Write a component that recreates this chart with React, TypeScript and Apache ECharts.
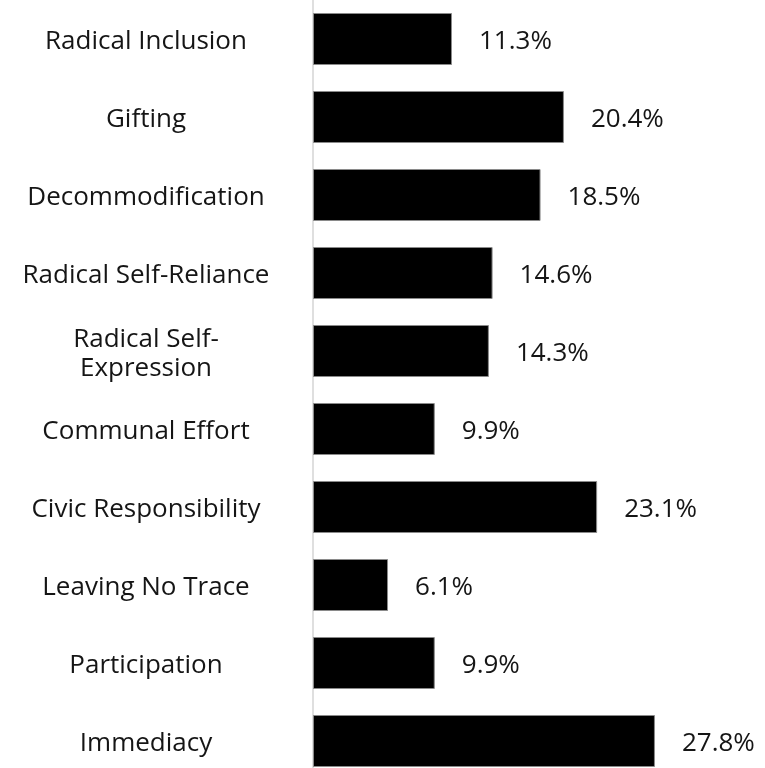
import React, { useEffect, useRef } from "react";
import * as echarts from "echarts";

const categories = [
  "Radical Inclusion",
  "Gifting",
  "Decommodification",
  "Radical Self-Reliance",
  "Radical Self-Expression",
  "Communal Effort",
  "Civic Responsibility",
  "Leaving No Trace",
  "Participation",
  "Immediacy",
];
const values = [11.3, 20.4, 18.5, 14.6, 14.3, 9.9, 23.1, 6.1, 9.9, 27.8];

export default function App() {
  const ref = useRef<HTMLDivElement>(null);
  useEffect(() => {
    if (!ref.current) return;
    const chart = echarts.init(ref.current, null, { renderer: "svg" });
    chart.setOption({
      animation: false,
      grid: { left: 313, right: 83, top: -1, bottom: 0 },
      xAxis: { type: "value", min: 0, max: 30, show: false },
      yAxis: {
        type: "category",
        data: categories,
        inverse: true,
        axisLine: { show: true, lineStyle: { color: "#d4d4d4", width: 1.5 } },
        axisTick: { show: false },
        axisLabel: {
          margin: 167,
          align: "center",
          fontFamily: "Open Sans",
          fontSize: 26,
          lineHeight: 29,
          color: "#151515",
          formatter: (v: string) => v.replace("Self-Expression", "Self-\nExpression"),
        },
      },
      series: [
        {
          type: "bar",
          data: values,
          barWidth: 52,
          itemStyle: { color: "#000", borderColor: "#8a8a8a", borderWidth: 1 },
          label: {
            show: true,
            position: "right",
            distance: 27,
            fontFamily: "Open Sans",
            fontSize: 26,
            color: "#151515",
            formatter: (p: any) => p.value.toFixed(1) + "%",
          },
        },
      ],
    });
    return () => chart.dispose();
  }, []);
  return (
    <div style={{ position: "fixed", left: 0, top: 0, width: 765, height: 768, overflow: "hidden" }}>
      <div ref={ref} style={{ width: 765, height: 780 }} />
    </div>
  );
}
